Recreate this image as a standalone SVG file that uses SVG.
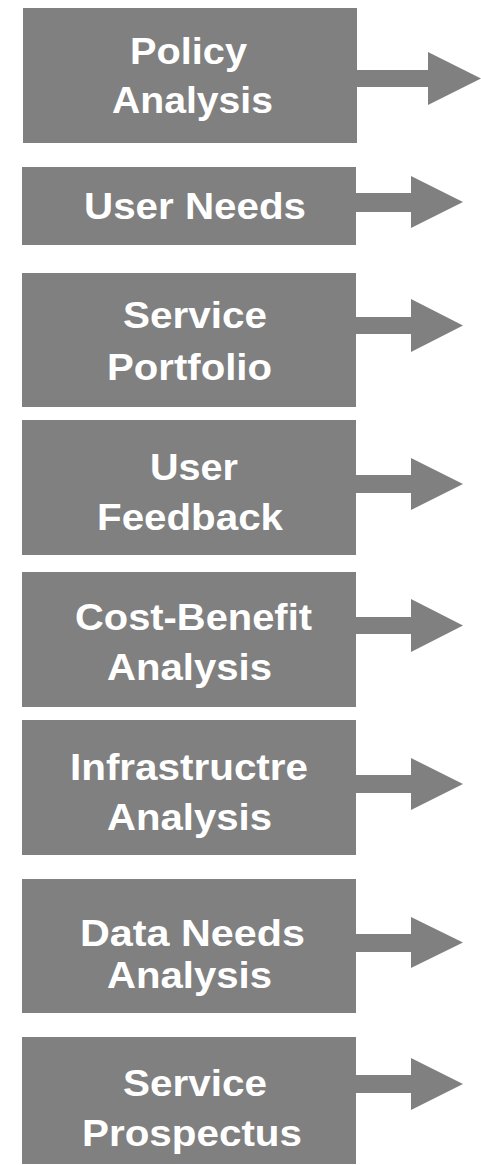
<svg xmlns="http://www.w3.org/2000/svg" width="481" height="1165" viewBox="0 0 481 1165">
<style>
.box{fill:#808080}
.arr{fill:#808080}
.t{font-family:"Liberation Sans",Arial,sans-serif;font-weight:bold;font-size:36.5px;fill:#ffffff}
</style>
<rect width="481" height="1165" fill="#ffffff"/>
<g id="connectors">
<path class="arr" d="M357,70 H428 V52 L481,78.5 L428,105 V87 H357 Z"/>
<path class="arr" d="M356,193 H411 V176 L463,202 L411,228 V212 H356 Z"/>
<path class="arr" d="M356,317 H411 V299 L463,325.5 L411,352 V334 H356 Z"/>
<path class="arr" d="M356,475 H411 V458 L463,484 L411,510 V493 H356 Z"/>
<path class="arr" d="M356,617 H411 V599 L463,625.5 L411,652 V634 H356 Z"/>
<path class="arr" d="M356,775 H411 V758 L463,784 L411,810 V793 H356 Z"/>
<path class="arr" d="M356,934 H411 V917 L463,942.5 L411,968 V952 H356 Z"/>
<path class="arr" d="M356,1075 H411 V1058 L463,1084 L411,1110 V1093 H356 Z"/>
</g>
<g id="n1"><rect class="box" x="23" y="8" width="334" height="135"/>
<text class="t" x="130" y="64" textLength="117" lengthAdjust="spacingAndGlyphs">Policy</text>
<text class="t" x="112" y="113" textLength="161" lengthAdjust="spacingAndGlyphs">Analysis</text></g>
<g id="n2"><rect class="box" x="22" y="167" width="334" height="78"/>
<text class="t" x="84" y="219" textLength="222" lengthAdjust="spacingAndGlyphs">User Needs</text></g>
<g id="n3"><rect class="box" x="22" y="273" width="334" height="134"/>
<text class="t" x="123" y="328" textLength="144" lengthAdjust="spacingAndGlyphs">Service</text>
<text class="t" x="107" y="380" textLength="165" lengthAdjust="spacingAndGlyphs">Portfolio</text></g>
<g id="n4"><rect class="box" x="22" y="420" width="334" height="135"/>
<text class="t" x="150" y="480" textLength="88" lengthAdjust="spacingAndGlyphs">User</text>
<text class="t" x="97" y="530" textLength="186" lengthAdjust="spacingAndGlyphs">Feedback</text></g>
<g id="n5"><rect class="box" x="22" y="572" width="334" height="135"/>
<text class="t" x="75" y="630" textLength="237" lengthAdjust="spacingAndGlyphs">Cost-Benefit</text>
<text class="t" x="107" y="680" textLength="165" lengthAdjust="spacingAndGlyphs">Analysis</text></g>
<g id="n6"><rect class="box" x="22" y="720" width="334" height="135"/>
<text class="t" x="70" y="780" textLength="238" lengthAdjust="spacingAndGlyphs">Infrastructre</text>
<text class="t" x="107" y="830" textLength="165" lengthAdjust="spacingAndGlyphs">Analysis</text></g>
<g id="n7"><rect class="box" x="22" y="879" width="334" height="134"/>
<text class="t" x="80" y="946" textLength="225" lengthAdjust="spacingAndGlyphs">Data Needs</text>
<text class="t" x="107" y="988" textLength="165" lengthAdjust="spacingAndGlyphs">Analysis</text></g>
<g id="n8"><rect class="box" x="22" y="1037" width="334" height="127"/>
<text class="t" x="123" y="1096" textLength="144" lengthAdjust="spacingAndGlyphs">Service</text>
<text class="t" x="82" y="1146" textLength="220" lengthAdjust="spacingAndGlyphs">Prospectus</text></g>
</svg>
